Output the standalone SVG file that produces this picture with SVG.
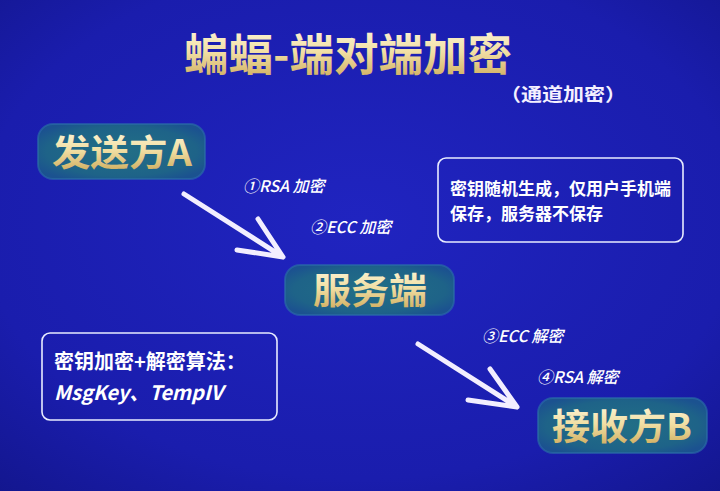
<svg xmlns="http://www.w3.org/2000/svg" width="720" height="491" viewBox="0 0 720 491">
<defs>
<radialGradient id="bg" cx="50%" cy="45%" r="75%">
<stop offset="0" stop-color="#2024c0"/>
<stop offset="0.7" stop-color="#1a1dad"/>
<stop offset="1" stop-color="#13168e"/>
</radialGradient>
<linearGradient id="gold" x1="0" y1="0" x2="0" y2="1">
<stop offset="0" stop-color="#fffbe6"/>
<stop offset="0.5" stop-color="#f1dfa4"/>
<stop offset="1" stop-color="#c9a452"/>
</linearGradient>
<radialGradient id="nodeFill" cx="50%" cy="50%" r="60%">
<stop offset="0" stop-color="#226f86"/>
<stop offset="0.75" stop-color="#1e6388"/>
<stop offset="1" stop-color="#1b5290"/>
</radialGradient>
<style>
.node rect.n{fill:url(#nodeFill);stroke:#2b6fa8;stroke-opacity:0.6;stroke-width:2;}
.ntext{font-family:"Noto Sans CJK SC","Noto Sans",sans-serif;font-weight:700;fill:url(#gold);text-anchor:middle;}
.info rect{fill:none;stroke:#e8ecff;stroke-width:1.6;}
.itext{font-family:"Noto Sans CJK SC","Noto Sans",sans-serif;font-weight:700;fill:#ffffff;}
.lbl{font-family:"Noto Sans CJK SC","Noto Sans",sans-serif;font-size:16px;font-weight:500;fill:#ffffff;font-style:italic;}
.arr{stroke:#f2eeff;stroke-width:5;stroke-linecap:round;stroke-linejoin:round;fill:none;}
</style>
</defs>
<rect width="720" height="491" fill="url(#bg)"/>

<g id="title">
<text x="348" y="71" class="ntext" font-size="44" textLength="328" lengthAdjust="spacingAndGlyphs">蝙蝠-端对端加密</text>
<text x="500" y="101" font-family="Noto Sans CJK SC, sans-serif" font-size="18" font-weight="700" fill="#f4f0ff" textLength="126" lengthAdjust="spacingAndGlyphs">（通道加密）</text>
</g>

<g id="nodeA" class="node">
<rect class="n" x="38" y="124" width="167" height="55" rx="15"/>
<text class="ntext" x="122" y="166" font-size="36" textLength="140" lengthAdjust="spacingAndGlyphs">发送方A</text>
</g>

<g id="server" class="node">
<rect class="n" x="285" y="265" width="169" height="50" rx="15"/>
<text class="ntext" x="370" y="304" font-size="36" textLength="114" lengthAdjust="spacingAndGlyphs">服务端</text>
</g>

<g id="nodeB" class="node">
<rect class="n" x="538" y="398" width="169" height="55" rx="15"/>
<text class="ntext" x="622" y="440" font-size="36" textLength="140" lengthAdjust="spacingAndGlyphs">接收方B</text>
</g>

<g id="info1" class="info">
<rect x="438" y="158" width="245" height="84" rx="8"/>
<text class="itext" x="450" y="195" font-size="17">密钥随机生成，仅用户手机端</text>
<text class="itext" x="450" y="220" font-size="17">保存，服务器不保存</text>
</g>

<g id="info2" class="info">
<rect x="42" y="333" width="235" height="87" rx="8"/>
<text class="itext" x="54" y="369" font-size="20">密钥加密+解密算法：</text>
<text class="itext" x="54" y="400" font-size="20" font-style="italic">MsgKey、TempIV</text>
</g>

<g id="connectors">
<path class="arr" d="M184,194 L283,257 M258,219 L283,257 L237,250"/>
<path class="arr" d="M418,344 L517,407 M490,369 L517,407 L468,400"/>
<text class="lbl" x="243" y="192">①RSA 加密</text>
<text class="lbl" x="310" y="233">②ECC 加密</text>
<text class="lbl" x="482" y="342">③ECC 解密</text>
<text class="lbl" x="537" y="383">④RSA 解密</text>
</g>
</svg>
